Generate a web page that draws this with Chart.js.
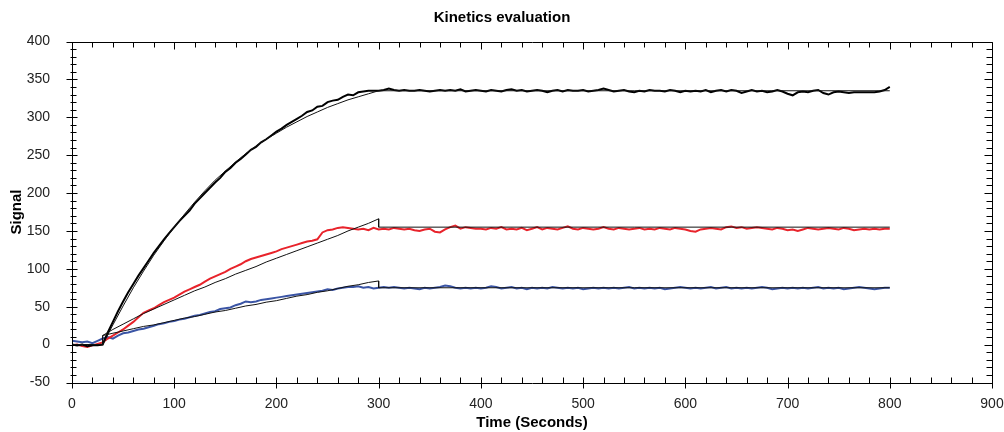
<!DOCTYPE html>
<html>
<head>
<meta charset="utf-8">
<script src="https://cdn.jsdelivr.net/npm/chart.js@4.4.1/dist/chart.umd.min.js"></script>
<style>
  html, body { margin: 0; padding: 0; background: #fff; }
  #wrap { width: 1004px; height: 432px; }
</style>
</head>
<body>
<div id="wrap"><canvas id="kinetics"></canvas></div>
<script>
// tick labels
const xTicks = [0, 100, 200, 300, 400, 500, 600, 700, 800, 900];
const yTicks = [-50, 0, 50, 100, 150, 200, 250, 300, 350, 400];

// measured curves, one value every 5 s
const timeS = [
  0, 5, 10, 15, 20, 25, 30, 35, 40, 45,
  50, 55, 60, 65, 70, 75, 80, 85, 90, 95,
  100, 105, 110, 115, 120, 125, 130, 135, 140, 145,
  150, 155, 160, 165, 170, 175, 180, 185, 190, 195,
  200, 205, 210, 215, 220, 225, 230, 235, 240, 245,
  250, 255, 260, 265, 270, 275, 280, 285, 290, 295,
  300, 305, 310, 315, 320, 325, 330, 335, 340, 345,
  350, 355, 360, 365, 370, 375, 380, 385, 390, 395,
  400, 405, 410, 415, 420, 425, 430, 435, 440, 445,
  450, 455, 460, 465, 470, 475, 480, 485, 490, 495,
  500, 505, 510, 515, 520, 525, 530, 535, 540, 545,
  550, 555, 560, 565, 570, 575, 580, 585, 590, 595,
  600, 605, 610, 615, 620, 625, 630, 635, 640, 645,
  650, 655, 660, 665, 670, 675, 680, 685, 690, 695,
  700, 705, 710, 715, 720, 725, 730, 735, 740, 745,
  750, 755, 760, 765, 770, 775, 780, 785, 790, 795,
  800
];
const signalBlack = [
  0, -1, 0, -2, -1, -1, 0, 16, 30, 44,
  57, 69, 80, 91, 101, 111, 121, 130, 139, 147,
  155, 163, 170, 177, 186, 193, 200, 207, 214, 220,
  228, 233, 240, 245, 251, 257, 261, 267, 271, 276,
  281, 285, 290, 294, 298, 302, 307, 309, 314, 315,
  320, 322, 323, 327, 330, 329, 333, 334, 335, 335,
  335, 336, 338, 336, 335, 336, 335, 335, 336, 335,
  334, 335, 336, 335, 336, 335, 337, 334, 335, 336,
  335, 334, 336, 335, 334, 336, 337, 335, 336, 334,
  335, 336, 335, 333, 335, 336, 334, 336, 335, 335,
  336, 334, 335, 336, 338, 336, 334, 335, 336, 334,
  333, 335, 334, 336, 335, 335, 334, 336, 335, 333,
  335, 334, 335, 334, 336, 333, 335, 336, 334, 336,
  335, 332, 334, 336, 334, 335, 333, 334, 336, 334,
  331, 329, 333, 334, 333, 335, 336, 332, 330, 333,
  334, 333, 332, 333, 333, 333, 333, 333, 334, 336,
  340
];
const signalRed = [
  -1, 0, -2, -3, -1, 1, 3, 8, 12, 16,
  20, 25, 30, 36, 42, 45, 48, 52, 56, 59,
  62, 66, 70, 73, 76, 79, 83, 87, 90, 93,
  96, 100, 103, 106, 110, 113, 115, 117, 119, 121,
  123, 126, 128, 130, 132, 134, 136, 137, 139, 148,
  151, 152, 154, 155, 154, 153, 152, 153, 151, 154,
  152, 153, 152, 154, 153, 152, 153, 151, 150, 152,
  153, 149, 148, 152, 155, 157, 153, 155, 154, 153,
  153, 152, 154, 153, 155, 152, 153, 152, 154, 151,
  153, 155, 152, 154, 153, 152, 154, 156, 153, 152,
  154, 153, 152, 153, 155, 153, 152, 154, 153, 152,
  153, 154, 152, 153, 152, 154, 153, 152, 154, 153,
  152, 150, 149, 152, 153, 154, 153, 152, 155, 156,
  154, 155, 153, 154, 155, 154, 153, 152, 154, 153,
  151, 152, 150, 152, 154, 153, 152, 153, 154, 153,
  152, 154, 153, 151, 152, 153, 152, 153, 152, 153,
  153
];
const signalBlue = [
  5, 4, 3, 4, 2, 5, 8, 10, 8, 12,
  15, 16, 18, 20, 21, 23, 25, 27, 28, 30,
  31, 33, 34, 36, 38, 39, 41, 43, 44, 47,
  48, 49, 52, 54, 57, 56, 57, 59, 60, 61,
  62, 63, 64, 65, 66, 67, 68, 69, 70, 71,
  73, 72, 74, 75, 76, 76, 77, 75, 76, 74,
  75, 76, 75, 76, 75, 74, 75, 74, 73, 75,
  74, 75, 76, 78, 77, 75, 74, 75, 74, 75,
  74, 75, 77, 76, 74, 75, 76, 74, 75, 73,
  75, 74, 75, 74, 76, 75, 74, 75, 74, 75,
  73, 74, 75, 74, 75, 74, 75, 74, 75, 76,
  74, 75, 74, 75, 74, 75, 73, 74, 75, 76,
  75, 74, 75, 74, 75, 76, 74, 75, 76, 74,
  75, 74, 75, 74, 75, 76, 75, 73, 74, 75,
  74, 75, 74, 75, 74, 75, 76, 74, 75, 74,
  75, 73, 74, 75, 76, 75, 74, 73, 74, 75,
  75
];

// fitted curves (association 30-300 s, then flat)
const fitTime = [0, 30, 30, 40, 50, 60, 70, 80, 90, 100, 110, 120, 130, 140, 150, 160,
  170, 180, 190, 200, 210, 220, 230, 240, 250, 260, 270, 280, 290, 300, 300, 800];
const fitBlack = [0, 0, 0, 26, 51, 75, 97, 118, 137, 155, 172, 188, 203, 217, 229, 241,
  252, 262, 271, 279, 287, 294, 301, 307, 313, 318, 323, 327, 331, 335, 335, 335];
const fitRed = [0, 0, 12, 20, 27, 34, 41, 47, 53, 59, 65, 71, 76, 82, 87, 93,
  98, 103, 109, 114, 119, 124, 129, 134, 139, 144, 150, 155, 160, 166, 155, 155];
const fitBlue = [0, 0, 12, 15, 18, 21, 24, 26, 29, 32, 35, 37, 40, 43, 45, 48,
  51, 53, 56, 58, 61, 64, 66, 69, 71, 74, 77, 79, 82, 84, 75, 75];

const pts = (xs, ys) => xs.map((x, i) => ({ x: x, y: ys[i] }));

const dataLine = (label, ys, color) => ({
  label, data: pts(timeS, ys), borderColor: color, borderWidth: 2,
  pointRadius: 0, tension: 0, order: 2
});
const fitLine = (label, ys) => ({
  label, data: pts(fitTime, ys), borderColor: "#111", borderWidth: 1,
  pointRadius: 0, tension: 0, order: 1
});

// frame with inner/crossing ticks like the original plot
const framePlugin = {
  id: "frame",
  afterDatasetsDraw(chart) {
    const { ctx, chartArea: a, scales: { x, y } } = chart;
    ctx.save();
    ctx.strokeStyle = "#000";
    ctx.lineWidth = 1;
    ctx.beginPath();
    ctx.rect(Math.round(a.left) + 0.5, Math.round(a.top) + 0.5,
      Math.round(a.right - a.left), Math.round(a.bottom - a.top));
    const L = Math.round(a.left) + 0.5, R = Math.round(a.right) + 0.5;
    const T = Math.round(a.top) + 0.5, B = Math.round(a.bottom) + 0.5;
    for (let v = x.min; v <= x.max; v += 20) {
      const px = Math.round(x.getPixelForValue(v)) + 0.5;
      const major = v % 100 === 0;
      ctx.moveTo(px, B + (major ? 5 : 0)); ctx.lineTo(px, B - 6);
      ctx.moveTo(px, T); ctx.lineTo(px, T + (major ? 7 : 5));
    }
    for (let v = y.min; v <= y.max; v += 10) {
      const py = Math.round(y.getPixelForValue(v)) + 0.5;
      const major = v % 50 === 0;
      ctx.moveTo(L - (major ? 6 : 2), py); ctx.lineTo(L + (major ? 5 : 4), py);
      ctx.moveTo(R, py); ctx.lineTo(R - (major ? 8 : 6), py);
    }
    ctx.stroke();
    ctx.restore();
  }
};

new Chart(document.getElementById("kinetics"), {
  type: "line",
  data: {
    datasets: [
      dataLine("Black", signalBlack, "#000000"),
      dataLine("Red", signalRed, "#e8232b"),
      dataLine("Blue", signalBlue, "#3b55a5"),
      fitLine("Fit black", fitBlack),
      fitLine("Fit red", fitRed),
      fitLine("Fit blue", fitBlue)
    ]
  },
  options: {
    responsive: true,
    maintainAspectRatio: false,
    animation: false,
    layout: { padding: { left: 0, right: 0, top: 0, bottom: 0 } },
    plugins: {
      legend: { display: false },
      tooltip: { enabled: false },
      title: {
        display: true,
        text: "Kinetics evaluation",
        color: "#000",
        font: { family: "Liberation Sans", size: 15, weight: "bold" },
        padding: { top: 9, bottom: 14.5 }
      }
    },
    scales: {
      x: {
        type: "linear",
        min: 0, max: 900,
        afterBuildTicks: s => { s.ticks = xTicks.map(v => ({ value: v })); },
        afterFit: s => { s.height = 49.5; s.paddingLeft = 0; s.paddingRight = 12; },
        grid: { display: false },
        border: { display: false },
        ticks: {
          color: "#222", padding: 5, maxRotation: 0,
          font: { family: "Liberation Sans", size: 14 }
        },
        title: {
          display: true, text: "Time (Seconds)", color: "#000",
          font: { family: "Liberation Sans", size: 15, weight: "bold" },
          padding: { top: 0, bottom: 0 }
        }
      },
      y: {
        type: "linear",
        min: -50, max: 400,
        afterBuildTicks: s => { s.ticks = yTicks.map(v => ({ value: v })); },
        afterFit: s => { s.width = 72; },
        grid: { display: false },
        border: { display: false },
        ticks: {
          color: "#222", padding: 14,
          font: { family: "Liberation Sans", size: 14 }
        },
        title: {
          display: true, text: "Signal", color: "#000",
          font: { family: "Liberation Sans", size: 15, weight: "bold" },
          padding: { top: 8, bottom: 0 }
        }
      }
    }
  },
  plugins: [framePlugin]
});
</script>
</body>
</html>
